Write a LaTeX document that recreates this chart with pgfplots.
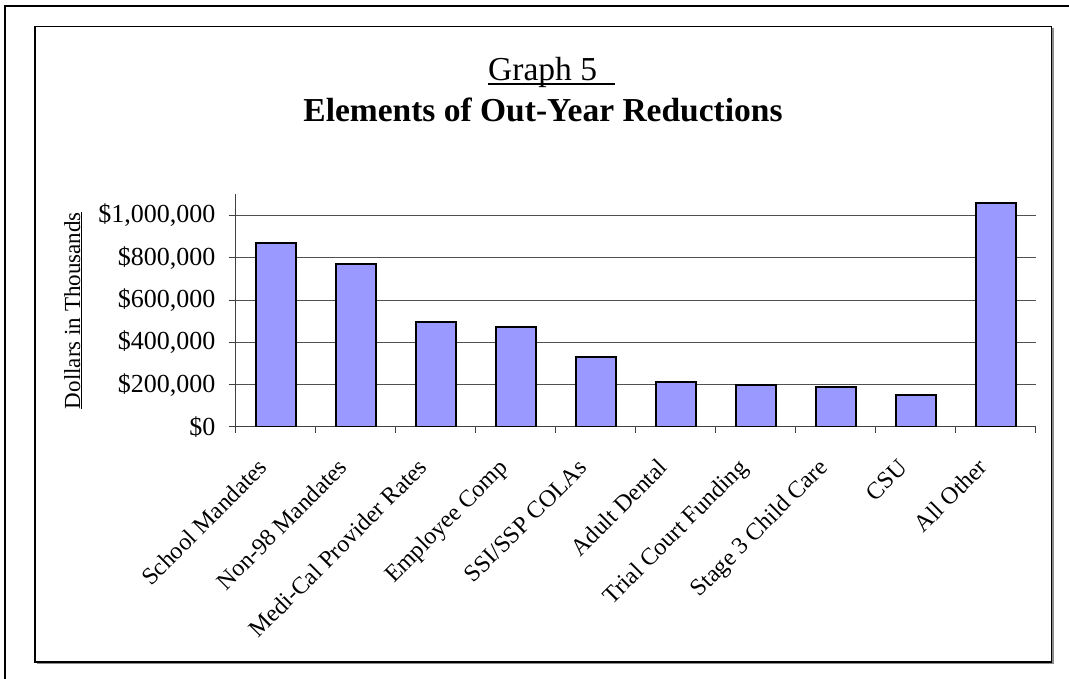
\documentclass[border=0pt]{standalone}
\usepackage{pgfplots}
\pgfplotsset{compat=1.18}
\usepackage{fontspec}
\setmainfont{Liberation Serif}
\definecolor{barfill}{RGB}{153,153,255}
\definecolor{axisgray}{RGB}{64,64,64}
\definecolor{gridgray}{RGB}{80,80,80}
\begin{document}
\begin{tikzpicture}[x=1pt,y=1pt]
\useasboundingbox (0,0) rectangle (1069,679);
% page frame and chart frame
\draw[line width=2pt] (5,0) -- (5,673) -- (1069,673);
\draw[black!45, line width=1.5pt] (37,15.5) -- (1053,15.5) -- (1053,650.5);
\draw[line width=1.5pt] (35,17) rectangle (1051.5,652.3);
% titles
\node[anchor=base west, inner sep=0pt] at (488,598.5)
  {\fontsize{33.5}{40}\selectfont Graph 5};
\draw[line width=1.8pt] (488,595) -- (615,595);
\node[anchor=base, inner sep=0pt] at (543,557)
  {\fontsize{33.5}{40}\selectfont\bfseries Elements of Out-Year Reductions};
\begin{axis}[
  at={(235.7pt,252pt)}, anchor=south west,
  scale only axis, width=800pt, height=232.7pt,
  xmin=-0.5, xmax=9.5, ymin=0, ymax=1100000,
  axis x line=bottom, axis y line=left,
  axis line style={axisgray, line width=1pt, -},
  tick align=outside,
  xtick={0,...,9},
  xticklabels={School Mandates, Non-98 Mandates, Medi-Cal Provider Rates,
    Employee Comp, SSI/SSP COLAs, Adult Dental, Trial Court Funding,
    Stage 3 Child Care, CSU, All Other},
  minor xtick={-0.5,0.5,...,9.5},
  major x tick style={draw=none},
  minor x tick style={axisgray, line width=1pt},
  minor tick length=6pt,
  major tick length=7pt,
  ytick={0,200000,400000,600000,800000,1000000},
  yticklabels={{\$0},{\$200,000},{\$400,000},{\$600,000},{\$800,000},{\$1,000,000}},
  scaled y ticks=false,
  y tick style={axisgray, line width=1pt},
  ymajorgrids,
  major grid style={gridgray, line width=1pt},
  yticklabel style={font=\fontsize{26}{30}\selectfont, inner sep=0pt, anchor=east},
  yticklabel shift=13pt,
  xticklabel style={font=\fontsize{24}{28}\selectfont, inner sep=0pt,
    anchor=base east, xshift=-7pt, rotate=45},
  xticklabel shift=35pt,
  ylabel={\underline{Dollars in Thousands}},
  ylabel style={font=\fontsize{23}{27}\selectfont, inner sep=0pt,
    at={(axis description cs:-0.1946,0.5)}, anchor=base},
]
\addplot[ybar, bar width=40pt, fill=barfill, draw=black, line width=2pt]
  coordinates {
    (0,872000) (1,770000) (2,494000) (3,473000) (4,330000)
    (5,213000) (6,200000) (7,191000) (8,153000) (9,1060000)
  };
\end{axis}
\end{tikzpicture}
\end{document}
